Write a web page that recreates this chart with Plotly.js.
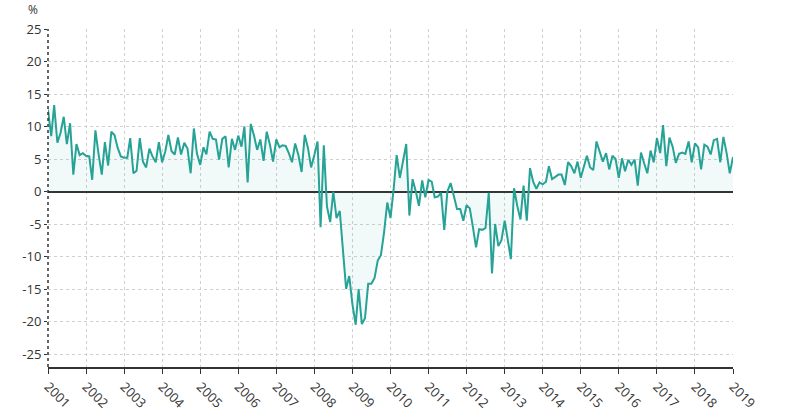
<!DOCTYPE html>
<html>
<head>
<meta charset="utf-8">
<script src="https://cdn.plot.ly/plotly-3.0.1.min.js"></script>
<style>html,body{margin:0;padding:0;background:#fff;}#chart{width:790px;height:420px;}</style>
</head>
<body>
<div id="chart"></div>
<script>
// Monthly values (%), Jan..Dec per year
const y2001 = [12.6, 8.5, 13.3, 7.5, 9.0, 11.5, 7.3, 10.5, 2.6, 7.3, 5.6, 5.9];
const y2002 = [5.5, 5.4, 1.8, 9.4, 5.8, 2.6, 7.6, 4.0, 9.2, 8.7, 6.7, 5.4];
const y2003 = [5.2, 5.2, 8.2, 2.8, 3.2, 8.2, 4.6, 3.7, 6.6, 5.4, 4.5, 7.6];
const y2004 = [4.5, 6.2, 8.7, 6.2, 5.7, 8.3, 5.7, 7.5, 6.6, 2.8, 9.7, 5.8];
const y2005 = [4.1, 6.8, 5.7, 9.2, 8.1, 8.0, 4.9, 8.1, 8.5, 3.7, 8.1, 6.4];
const y2006 = [8.6, 6.9, 10.0, 1.4, 10.4, 8.6, 6.4, 8.0, 4.7, 9.2, 7.2, 4.6];
const y2007 = [8.0, 6.8, 7.1, 7.0, 5.9, 4.5, 7.4, 5.6, 3.0, 8.7, 6.7, 3.7];
const y2008 = [5.6, 7.7, -5.5, 7.1, -2.3, -4.7, 0.0, -4.1, -3.0, -9.0, -15.0, -13.0];
const y2009 = [-17.4, -20.5, -15.0, -20.4, -19.5, -14.2, -14.2, -13.3, -10.6, -9.8, -6.2, -1.7];
const y2010 = [-4.1, 0.5, 5.6, 2.1, 5.0, 7.3, -3.7, 1.9, 0.0, -2.2, 1.7, -0.9];
const y2011 = [1.8, 1.5, -0.9, -0.8, -0.2, -5.9, 0.0, 1.3, -0.7, -2.7, -2.7, -4.5];
const y2012 = [-2.1, -2.6, -5.4, -8.6, -5.8, -5.9, -5.6, -0.2, -12.6, -5.0, -8.4, -7.5];
const y2013 = [-4.5, -7.4, -10.4, 0.5, -2.2, -4.3, 0.9, -4.5, 3.6, 1.5, 0.4, 1.4];
const y2014 = [1.1, 1.5, 3.9, 1.9, 2.3, 2.6, 2.6, 1.0, 4.5, 3.9, 2.8, 4.6];
const y2015 = [2.1, 3.8, 5.5, 3.7, 3.3, 7.7, 6.0, 4.6, 5.9, 3.4, 5.5, 5.0];
const y2016 = [2.1, 5.1, 3.1, 4.9, 4.1, 4.9, 0.9, 6.0, 4.3, 2.8, 6.3, 4.5];
const y2017 = [8.2, 5.9, 10.2, 3.9, 8.3, 6.9, 4.4, 5.8, 6.0, 5.8, 7.7, 4.5];
const y2018 = [7.4, 6.8, 3.4, 7.2, 6.9, 5.7, 7.9, 8.1, 4.5, 8.4, 5.9, 2.8];
const y2019 = [5.3];

const years = [2001,2002,2003,2004,2005,2006,2007,2008,2009,2010,2011,2012,2013,2014,2015,2016,2017,2018,2019];
const yearValues = [y2001,y2002,y2003,y2004,y2005,y2006,y2007,y2008,y2009,y2010,y2011,y2012,y2013,y2014,y2015,y2016,y2017,y2018,y2019];
const yTicks = [-25,-20,-15,-10,-5,0,5,10,15,20,25];

const xs = [], ys = [];
years.forEach((yr, k) => {
  yearValues[k].forEach((v, m) => {
    xs.push(yr + '-' + String(m + 1).padStart(2, '0') + '-01');
    ys.push(v);
  });
});

const lineColor = '#26a296';
const trace = {
  x: xs, y: ys, type: 'scatter', mode: 'lines',
  line: {color: lineColor, width: 2},
  fill: 'tozeroy', fillcolor: 'rgba(38,162,150,0.06)',
  hoverinfo: 'x+y'
};

const fontFam = '"Open Sans", "Noto Sans", sans-serif';
const layout = {
  width: 790, height: 420,
  margin: {l: 48, r: 57, t: 29, b: 53},
  paper_bgcolor: '#ffffff', plot_bgcolor: '#ffffff',
  showlegend: false,
  font: {family: fontFam, size: 12, color: '#333'},
  xaxis: {
    type: 'date',
    range: ['2001-01-01', '2019-01-01'],
    dtick: 'M12', tick0: '2001-01-01', tickformat: '%Y',
    tickangle: 45,
    ticks: 'outside', ticklen: 5, tickcolor: '#333', tickwidth: 1,
    showline: true, linecolor: '#333', linewidth: 2,
    showgrid: true, gridcolor: '#d0d0d0', griddash: 'dot', gridwidth: 1,
    tickfont: {family: fontFam, size: 13, color: '#333'},
    zeroline: false, fixedrange: true
  },
  yaxis: {
    range: [-27, 25],
    tickvals: yTicks,
    ticktext: yTicks.map(String),
    ticks: 'outside', ticklen: 3, tickcolor: '#333',
    showline: false,
    showgrid: true, gridcolor: '#d0d0d0', griddash: 'dot', gridwidth: 1,
    zeroline: true, zerolinecolor: '#333', zerolinewidth: 2,
    tickfont: {family: fontFam, size: 13, color: '#333'},
    fixedrange: true
  },
  shapes: [{
    type: 'line', xref: 'paper', yref: 'paper',
    x0: 0, x1: 0, y0: 0, y1: 1,
    line: {color: '#333', width: 1.5, dash: 'dot'}
  }],
  annotations: [{
    text: '%', xref: 'paper', yref: 'paper', x: 0, y: 1,
    xanchor: 'center', yanchor: 'bottom', xshift: -15, yshift: 9,
    showarrow: false, font: {family: fontFam, size: 12, color: '#333'}
  }]
};

Plotly.newPlot('chart', [trace], layout, {displayModeBar: false, staticPlot: true});
</script>
</body>
</html>
